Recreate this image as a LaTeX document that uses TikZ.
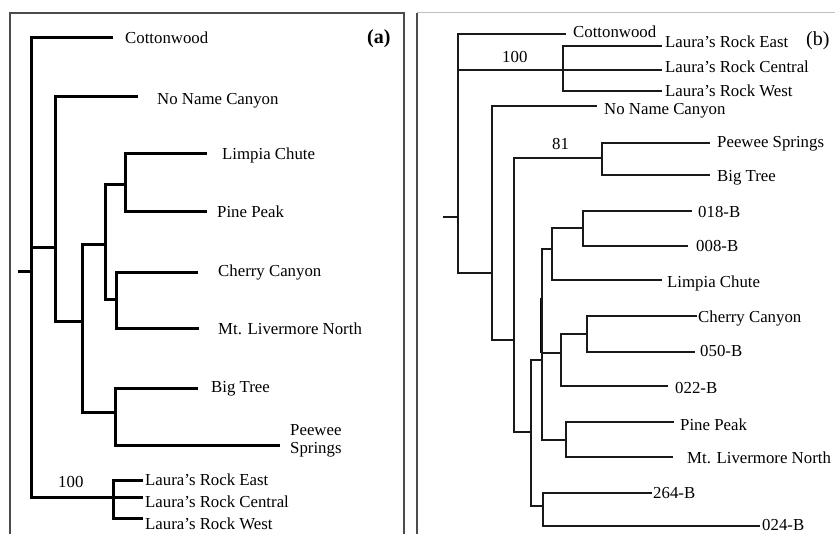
\documentclass[tikz,border=0pt]{standalone}
\usepackage{fontspec}
\setmainfont{Liberation Serif}
\begin{document}
\begin{tikzpicture}[x=1pt,y=-1pt,
  lbl/.style={anchor=base west, inner sep=0pt, font=\fontsize{16.8}{19}\selectfont},
  tagbold/.style={anchor=base west, inner sep=0pt, font=\fontsize{20}{22}\selectfont\bfseries},
  tagplain/.style={anchor=base west, inner sep=0pt, font=\fontsize{20}{22}\selectfont},
  brA/.style={line width=3pt, black},
  brB/.style={line width=2.1pt, black!90},
  frameDark/.style={line width=1.6pt, black!70},
  frameLight/.style={line width=1pt, black!25}]
\useasboundingbox (0,0) rectangle (835,534);
\fill[white] (0,0) rectangle (835,534);

% ---------- frames
\draw[frameDark] (10,534) -- (10,13) -- (404,13) -- (404,534);
\draw[frameLight] (417,13) -- (835,13);
\draw[frameDark] (417,13) -- (417,534);

% ---------- tree (a)
\coordinate (a0) at (18,272);
\coordinate (a1) at (31,272);
\coordinate (a2) at (55,248);
\coordinate (a3) at (82,322);
\coordinate (a4) at (105,245);
\coordinate (a5) at (115,412);
\coordinate (a6) at (125,185);
\coordinate (a7) at (116,300);
\coordinate (aL) at (113,497);
\coordinate (eCot) at (113,38);
\coordinate (eNoN) at (138,97);
\coordinate (eLim) at (207,154);
\coordinate (ePin) at (207,212);
\coordinate (eChe) at (198,273);
\coordinate (eMtL) at (199,329);
\coordinate (eBig) at (198,388);
\coordinate (ePee) at (280,445);
\coordinate (eLE) at (143,480);
\coordinate (eLC) at (143,497);
\coordinate (eLW) at (143,518);

\draw[brA] (a0) -- (a1);
\draw[brA] (a1) |- (eCot);
\draw[brA] (a1) |- (a2);
\draw[brA] (a1) |- (aL);
\draw[brA] (a2) |- (eNoN);
\draw[brA] (a2) |- (a3);
\draw[brA] (a3) |- (a4);
\draw[brA] (a3) |- (a5);
\draw[brA] (a4) |- (a6);
\draw[brA] (a4) |- (a7);
\draw[brA] (a6) |- (eLim);
\draw[brA] (a6) |- (ePin);
\draw[brA] (a7) |- (eChe);
\draw[brA] (a7) |- (eMtL);
\draw[brA] (a5) |- (eBig);
\draw[brA] (a5) |- (ePee);
\draw[brA] (aL) |- (eLE);
\draw[brA] (aL) -- (eLC);
\draw[brA] (aL) |- (eLW);

\node[lbl] (tCot) at (125,44) {Cottonwood};
\node[tagbold] (pa) at (367,44) {(a)};
\node[lbl] (tNoN) at (157,105) {No Name Canyon};
\node[lbl] (tLim) at (222,160) {Limpia Chute};
\node[lbl] (tPin) at (217,218) {Pine Peak};
\node[lbl] (tChe) at (218,277) {Cherry Canyon};
\node[lbl] (tMtL) at (218,335) {Mt. Livermore North};
\node[lbl] (tBig) at (211,392) {Big Tree};
\node[lbl] (tPe1) at (290,435) {Peewee};
\node[lbl] (tPe2) at (290,453) {Springs};
\node[lbl] (tLE) at (145,485) {Laura’s Rock East};
\node[lbl] (tLC) at (145,507) {Laura’s Rock Central};
\node[lbl] (tLW) at (145,529) {Laura’s Rock West};
\node[lbl] (sA) at (58,487) {100};

% ---------- tree (b)
\coordinate (b0) at (443,217);
\coordinate (b1) at (458,217);
\coordinate (bL) at (563,70);
\coordinate (b2) at (492,273);
\coordinate (b3) at (514,340);
\coordinate (b4) at (602,158);
\coordinate (b5) at (531,432);
\coordinate (b6) at (542,360);
\coordinate (b7) at (543,506);
\coordinate (b8) at (552,249);
\coordinate (b9) at (561,353);
\coordinate (b10) at (566,440);
\coordinate (b11) at (583,228);
\coordinate (b12) at (587,334);
\coordinate (fCot) at (566,34);
\coordinate (fLE) at (662,46);
\coordinate (fLC) at (662,70);
\coordinate (fLW) at (662,91);
\coordinate (fNoN) at (597,106);
\coordinate (fPee) at (710,143);
\coordinate (fBig) at (710,175);
\coordinate (f018) at (692,211);
\coordinate (f008) at (688,246);
\coordinate (fLim) at (662,280);
\coordinate (fChe) at (697,316);
\coordinate (f050) at (695,352);
\coordinate (f022) at (668,386);
\coordinate (fPin) at (674,422);
\coordinate (fMtL) at (673,457);
\coordinate (f264) at (652,493);
\coordinate (f024) at (760,526);

\draw[brB] (b0) -- (b1);
\draw[brB] (b1) |- (fCot);
\draw[brB] (b1) |- (bL);
\draw[brB] (b1) |- (b2);
\draw[brB] (bL) |- (fLE);
\draw[brB] (bL) -- (fLC);
\draw[brB] (bL) |- (fLW);
\draw[brB] (b2) |- (fNoN);
\draw[brB] (b2) |- (b3);
\draw[brB] (b3) |- (b4);
\draw[brB] (b3) |- (b5);
\draw[brB] (b4) |- (fPee);
\draw[brB] (b4) |- (fBig);
\draw[brB] (b5) |- (b6);
\draw[brB] (b5) |- (b7);
\draw[brB] (b6) |- (b8);
\draw[brB] (b6) |- (b9);
\draw[brB] (b6) |- (b10);
\draw[brB] (b8) |- (b11);
\draw[brB] (b8) |- (fLim);
\draw[brB] (b11) |- (f018);
\draw[brB] (b11) |- (f008);
\draw[brB] (b9) |- (b12);
\draw[brB] (b9) |- (f022);
\draw[brB] (b12) |- (fChe);
\draw[brB] (b12) |- (f050);
\draw[brB] (b10) |- (fPin);
\draw[brB] (b10) |- (fMtL);
\draw[brB] (b7) |- (f264);
\draw[brB] (b7) |- (f024);
\draw[line width=1.8pt, black] (540.5,298) -- (540.5,353);

\node[lbl] (uCot) at (573,38) {Cottonwood};
\node[tagplain] (pb) at (806,46) {(b)};
\node[lbl] (sB1) at (502,63) {100};
\node[lbl] (uLE) at (665,48) {Laura’s Rock East};
\node[lbl] (uLC) at (665,73) {Laura’s Rock Central};
\node[lbl] (uLW) at (665,97) {Laura’s Rock West};
\node[lbl] (uNoN) at (604,115) {No Name Canyon};
\node[lbl] (sB2) at (552,150) {81};
\node[lbl] (uPee) at (717,148) {Peewee Springs};
\node[lbl] (uBig) at (717,182) {Big Tree};
\node[lbl] (u018) at (698,218) {018-B};
\node[lbl] (u008) at (696,252) {008-B};
\node[lbl] (uLim) at (667,288) {Limpia Chute};
\node[lbl] (uChe) at (698,323) {Cherry Canyon};
\node[lbl] (u050) at (700,357) {050-B};
\node[lbl] (u022) at (675,393) {022-B};
\node[lbl] (uPin) at (680,430) {Pine Peak};
\node[lbl] (uMtL) at (687,463) {Mt. Livermore North};
\node[lbl] (u264) at (653,498) {264-B};
\node[lbl] (u024) at (762,530) {024-B};
\end{tikzpicture}
\end{document}
